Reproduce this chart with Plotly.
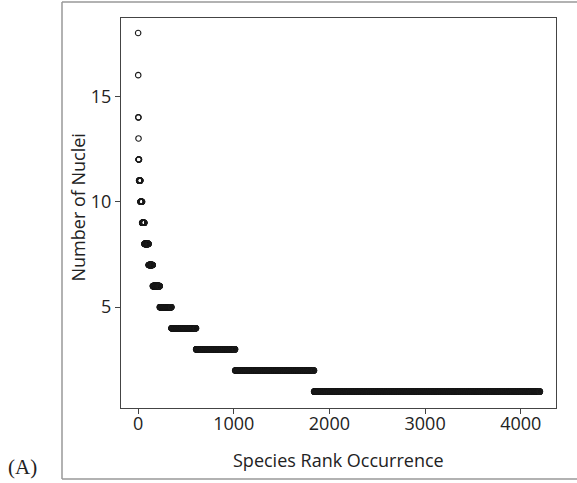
import numpy as np
import plotly.graph_objects as go

# Number of nuclei shared by a species, and how many species share that count
nuclei = [18, 16, 14, 13, 12, 11, 10, 9, 8, 7, 6, 5, 4, 3, 2, 1]
species_count = [1, 1, 2, 1, 5, 14, 18, 24, 44, 44, 73, 121, 258, 408, 825, 2361]

x_ticks = [0, 1000, 2000, 3000, 4000]
y_ticks = [5, 10, 15]

# Species ranked by occurrence: each species gets its own rank
y_vals = np.repeat(nuclei, species_count)
ranks = np.arange(1, len(y_vals) + 1)

W, H = 577, 483
L, R, T, B = 121, 21, 18, 75
pw, ph = W - L - R, H - T - B


def px_x(p):
    return (p - L) / pw


def px_y(p):
    return (H - B - p) / ph


fig = go.Figure()
fig.add_trace(go.Scatter(
    x=ranks, y=y_vals, mode="markers",
    marker=dict(symbol="circle-open", size=5.5, color="#1a1a1a",
                line=dict(width=1.1, color="#1a1a1a")),
    showlegend=False, hoverinfo="x+y",
))

axis_common = dict(
    showline=True, linecolor="#444", linewidth=1.3, mirror=True,
    ticks="outside", ticklen=5, tickwidth=1.2, tickcolor="#444",
    showgrid=False, zeroline=False,
    tickfont=dict(family="Open Sans", size=18, color="#222"),
)

fig.update_xaxes(range=[-178, 4368], tickvals=x_ticks, ticklabelstandoff=-6,
                 **axis_common)
fig.update_yaxes(range=[0.22, 18.71], tickvals=y_ticks, **axis_common)

fig.update_layout(
    width=W, height=H,
    margin=dict(l=L, r=R, t=T, b=B, pad=0),
    paper_bgcolor="white", plot_bgcolor="white",
    shapes=[
        dict(type="line", xref="paper", yref="paper",
             x0=px_x(62), x1=px_x(700), y0=px_y(2), y1=px_y(2),
             line=dict(color="#999", width=1.5), layer="below"),
        dict(type="line", xref="paper", yref="paper",
             x0=px_x(62), x1=px_x(700), y0=px_y(479), y1=px_y(479),
             line=dict(color="#999", width=1.5), layer="below"),
        dict(type="line", xref="paper", yref="paper",
             x0=px_x(62), x1=px_x(62), y0=px_y(479), y1=px_y(2),
             line=dict(color="#999", width=1.5), layer="below"),
    ],
    annotations=[
        dict(text="Species Rank Occurrence", xref="paper", yref="paper",
             x=px_x(338.5), y=px_y(460), xanchor="center", yanchor="middle",
             showarrow=False, font=dict(family="Open Sans", size=18, color="#222")),
        dict(text="Number of Nuclei", xref="paper", yref="paper",
             x=px_x(77), y=px_y(207.5), xanchor="center", yanchor="middle",
             textangle=-90, showarrow=False,
             font=dict(family="Open Sans", size=18, color="#222")),
        dict(text="(A)", xref="paper", yref="paper",
             x=px_x(22), y=px_y(467), xanchor="center", yanchor="middle",
             showarrow=False, font=dict(family="Liberation Serif", size=21, color="#222")),
    ],
)

fig.write_html("out.html", config={"displayModeBar": False},
               post_script="document.body.style.margin='0';document.body.style.overflow='hidden';")
